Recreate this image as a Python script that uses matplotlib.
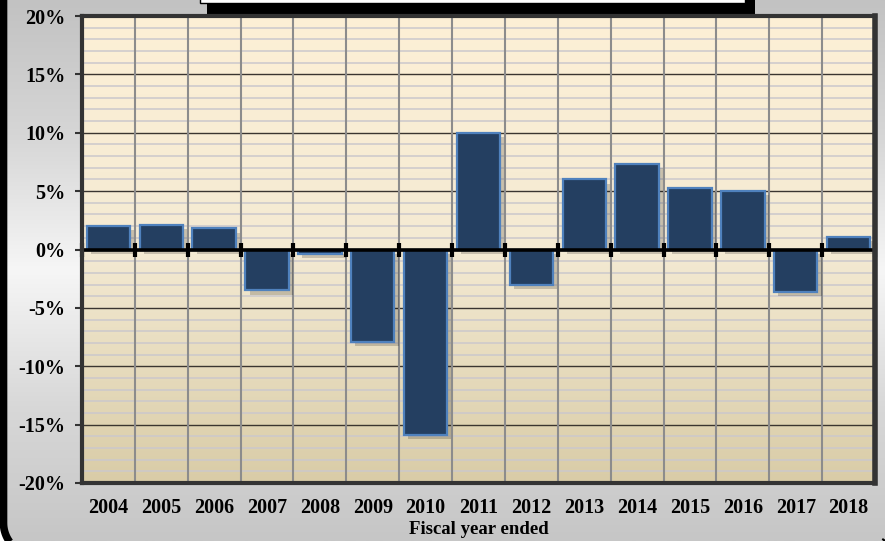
import numpy as np
import matplotlib
matplotlib.use("Agg")
import matplotlib.pyplot as plt
import matplotlib.patheffects as pe
from matplotlib.patches import Polygon, Rectangle
from matplotlib.colors import LinearSegmentedColormap

# data
years = ['2004', '2005', '2006', '2007', '2008', '2009', '2010', '2011',
         '2012', '2013', '2014', '2015', '2016', '2017', '2018']
changes = [2.0, 2.1, 1.8, -3.5, -0.4, -7.9, -15.9, 10.0,
           -3.0, 6.0, 7.3, 5.3, 5.0, -3.6, 1.1]
y_ticks = [-20, -15, -10, -5, 0, 5, 10, 15, 20]

W, H = 885, 541
plt.rcParams['font.family'] = ['Liberation Serif', 'DejaVu Serif']
plt.rcParams['font.weight'] = 'bold'

fig = plt.figure(figsize=(W / 100, H / 100), dpi=100)
fig.patch.set_facecolor('white')


def rounded_rect(x0, y0, x1, y1, r, k=24):
    pts = []
    for cx, cy, a0 in [(x1 - r, y0 + r, -90), (x1 - r, y1 - r, 0),
                       (x0 + r, y1 - r, 90), (x0 + r, y0 + r, 180)]:
        t = np.radians(np.linspace(a0, a0 + 90, k))
        pts += list(zip(cx + r * np.cos(t), cy + r * np.sin(t)))
    return pts


# ---- background frame (pixel coords, y measured from the bottom) ----
bg = fig.add_axes([0, 0, 1, 1])
bg.set_xlim(0, W)
bg.set_ylim(0, H)
bg.axis('off')
frame = Polygon(rounded_rect(3.5, -14, 891, 600, 32), closed=True,
                facecolor='none', edgecolor='black', linewidth=5.5, zorder=3)
bg.add_patch(frame)
grey = LinearSegmentedColormap.from_list('g', ['#c2c2c2', '#d6d6d6', '#f6f6f6', '#d8d8d8', '#c6c6c6'])
grad = np.linspace(0, 1, 256).reshape(-1, 1)
im = bg.imshow(grad, cmap=grey, extent=[0, W, 0, H], aspect='auto', zorder=1)
im.set_clip_path(frame)

# title box (cut off at the top)
bg.add_patch(Rectangle((207, H - 15), 548, 45, facecolor='black', zorder=4))
bg.add_patch(Rectangle((200, H - 3), 545, 33, facecolor='white', edgecolor='black',
                       linewidth=1, zorder=5))

# ---- main plot ----
ax = fig.add_axes([82 / W, 1 - 483 / H, 793 / W, 467 / H])
n = len(years)
x = np.arange(n)
ax.set_xlim(-0.5, n - 0.5)
ax.set_ylim(-20, 20)

cream = LinearSegmentedColormap.from_list('c', ['#fdf0d6', '#f4ead3', '#d9cca7'])
ax.imshow(grad, cmap=cream, extent=[-0.5, n - 0.5, -20, 20], aspect='auto', zorder=0)

# minor horizontal grid every 1 %
for v in range(-19, 20):
    if v % 5 != 0:
        ax.axhline(v, color='#cbc8cc', linewidth=1.1, zorder=1)
for v in y_ticks:
    ax.axhline(v, color='#3a3530', linewidth=1.0, zorder=1.5)
# vertical lines between categories
for b in np.arange(n - 1) + 0.5:
    ax.axvline(b, color='#8c8c8c', linewidth=1.5, zorder=2)

bars = ax.bar(x, changes, width=0.82, color='#243f61', edgecolor='#4f81bd',
              linewidth=1.6, zorder=3)
for b in bars:
    b.set_path_effects([pe.SimplePatchShadow(offset=(3, -3), shadow_rgbFace='#000000', alpha=0.18),
                        pe.Normal()])

ax.axhline(0, color='black', linewidth=2.6, zorder=4)
ax.plot(np.arange(n + 1) - 0.5, np.zeros(n + 1), linestyle='none', marker='|',
        markersize=10, markeredgewidth=3, color='black', zorder=4, clip_on=False)

ax.set_yticks(y_ticks)
ax.set_yticklabels([f'{v}%' for v in y_ticks], fontsize=14.5, fontweight='bold')
ax.set_xticks(x)
ax.set_xticklabels(years, fontsize=14.5, fontweight='bold')
ax.tick_params(axis='y', length=5, width=1.5, color='#333333', pad=7)
ax.tick_params(axis='x', length=0, pad=11)
ax.set_xlabel('Fiscal year ended', fontsize=13.5, fontweight='bold', labelpad=2)

for side in ['left', 'bottom', 'top', 'right']:
    ax.spines[side].set_color('#333333')
    ax.spines[side].set_linewidth(3)
    ax.spines[side].set_zorder(6)
ax.spines['right'].set_linewidth(4)

fig.savefig('out.png', dpi=100)
